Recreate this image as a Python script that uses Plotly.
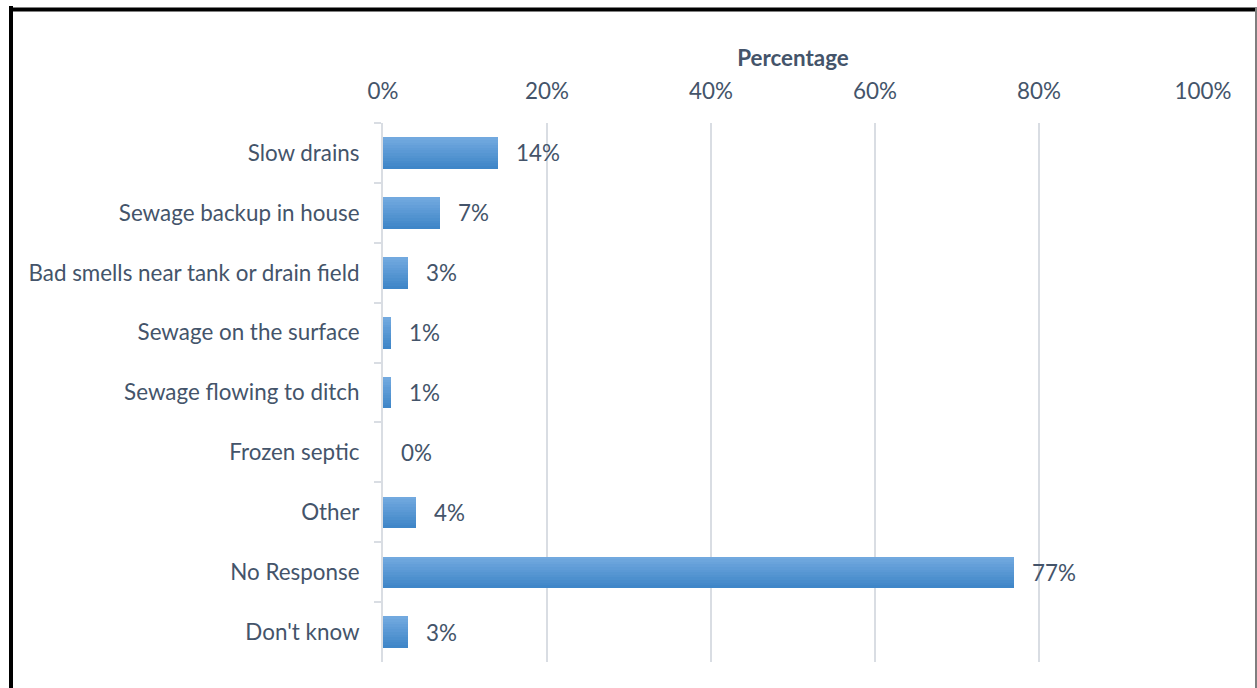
import plotly.graph_objects as go

# Survey responses: septic system problems experienced
categories = [
    "Slow drains",
    "Sewage backup in house",
    "Bad smells near tank or drain field",
    "Sewage on the surface",
    "Sewage flowing to ditch",
    "Frozen septic",
    "Other",
    "No Response",
    "Don't know",
]
percentages = [14, 7, 3, 1, 1, 0, 4, 77, 3]
x_ticks = [0, 20, 40, 60, 80, 100]
x_tick_labels = ["0%", "20%", "40%", "60%", "80%", "100%"]

W, H = 1257, 688
M_L, M_R, M_T, M_B = 383, 54, 123, 26
TEXT = "#44546a"
GRID = "#d9dde3"
FONT = "Lato"
FS = 22.4

# vertical gradient for the bars, light at the top to darker at the bottom
top_rgb = (0x72, 0xa9, 0xdf)
bot_rgb = (0x3f, 0x86, 0xc8)
n_strips = 12
bar_w = 0.52

fig = go.Figure()
for i in range(n_strips):
    t = i / (n_strips - 1)
    r, g, b = (round(a + (c - a) * t) for a, c in zip(top_rgb, bot_rgb))
    sw = bar_w / n_strips
    fig.add_trace(go.Bar(
        x=percentages,
        y=categories,
        orientation="h",
        width=sw * 1.15,
        offset=-bar_w / 2 + i * sw,
        marker=dict(color=f"rgb({r},{g},{b})", line=dict(width=0)),
        showlegend=False,
        hoverinfo="skip" if i else "x+y",
    ))

for cat, v in zip(categories, percentages):
    fig.add_annotation(
        x=v, y=cat, text=f"{v}%", showarrow=False,
        xanchor="left", yanchor="middle", xshift=16,
        font=dict(family=FONT, size=FS, color=TEXT),
    )

def px_x(p):
    return (p - M_L) / (W - M_L - M_R)

def px_y(p):
    return 1 - (p - M_T) / (H - M_T - M_B)

# frame around the chart
fig.add_shape(type="line", xref="paper", yref="paper",
              x0=px_x(11), x1=px_x(11), y0=px_y(6), y1=px_y(700),
              line=dict(color="black", width=4))
fig.add_shape(type="line", xref="paper", yref="paper",
              x0=px_x(9), x1=px_x(1258), y0=px_y(9.5), y1=px_y(9.5),
              line=dict(color="black", width=4))
fig.add_shape(type="line", xref="paper", yref="paper",
              x0=px_x(1256), x1=px_x(1256), y0=px_y(8), y1=px_y(700),
              line=dict(color="#7f7f7f", width=2))

fig.update_layout(
    width=W, height=H,
    margin=dict(l=M_L, r=M_R, t=M_T, b=M_B),
    paper_bgcolor="white", plot_bgcolor="white",
    barmode="overlay",
    bargap=0,
    font=dict(family=FONT, size=FS, color=TEXT),
    xaxis=dict(
        side="top",
        range=[0, 100],
        tickvals=x_ticks,
        ticktext=x_tick_labels,
        showgrid=True, gridcolor=GRID, gridwidth=2,
        zeroline=False, showline=False,
        ticks="", ticklabelstandoff=19,
        tickfont=dict(family=FONT, size=FS, color=TEXT),
        title=dict(text="<b>Percentage</b>", standoff=3,
                   font=dict(family=FONT, size=FS, color=TEXT)),
    ),
    yaxis=dict(
        type="category",
        categoryorder="array", categoryarray=categories,
        autorange="reversed",
        showgrid=False, zeroline=False,
        showline=True, linecolor=GRID, linewidth=2,
        ticks="outside", ticklen=7, tickcolor=GRID, tickwidth=2,
        tickson="boundaries",
        ticklabelstandoff=17,
        tickfont=dict(family=FONT, size=FS, color=TEXT),
    ),
)

fig.write_html("out.html")
